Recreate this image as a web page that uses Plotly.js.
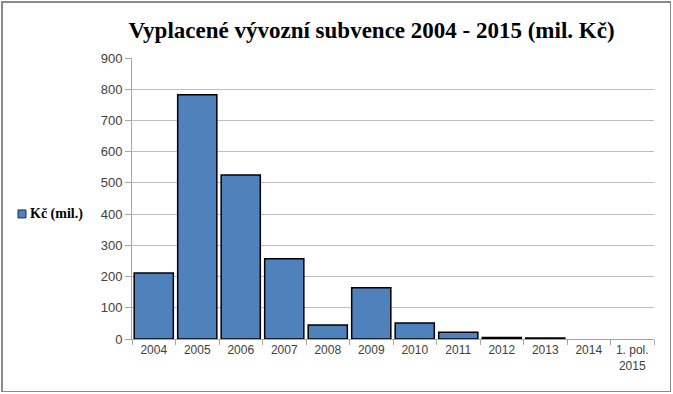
<!DOCTYPE html>
<html>
<head>
<meta charset="utf-8">
<script src="https://cdn.plot.ly/plotly-3.0.1.min.js"></script>
<style>
html,body{margin:0;padding:0;background:#fff;}
#wrap{position:relative;width:673px;height:394px;}
#chart{width:673px;height:394px;}
#frame{position:absolute;left:1px;top:1px;width:667px;height:388px;border:1px solid #8a8a8a;border-left-width:2px;border-top-width:2px;pointer-events:none;}
</style>
</head>
<body>
<div id="wrap"><div id="chart"></div><div id="frame"></div></div>
<script>
const categories = ["2004","2005","2006","2007","2008","2009","2010","2011","2012","2013","2014","1. pol.<br>2015"];
const values = [211, 782, 525, 257, 45, 164, 51, 22, 5, 3, 0, 0];
const seriesName = "Kč (mil.)";
const yTicks = [0,100,200,300,400,500,600,700,800,900];
const barColor = "#4f81bd";

const trace = {
  type: "bar",
  x: categories,
  y: values,
  name: seriesName,
  marker: {color: barColor, line: {color: "#000000", width: values.map(v => v > 0 ? 1.5 : 0)}},
  showlegend: false
};

const plotW = 522, plotH = 281;
const legX = -114 / plotW, legY = 0.445;
const layout = {
  width: 673, height: 394,
  margin: {l: 132, r: 19, t: 58, b: 55},
  paper_bgcolor: "#ffffff", plot_bgcolor: "#ffffff",
  bargap: 0.1,
  title: {
    text: "Vyplacené vývozní subvence 2004 - 2015 (mil. Kč)",
    font: {family: "Liberation Serif, serif", size: 23, color: "#000", weight: "bold"},
    xref: "paper", x: 0.459, xanchor: "center",
    yref: "container", y: 0.925, yanchor: "middle"
  },
  showlegend: false,
  shapes: [{
    type: "rect", xref: "paper", yref: "paper",
    x0: legX, x1: legX + 8/plotW, y0: legY - 4/plotH, y1: legY + 4/plotH,
    fillcolor: barColor, line: {color: "#1f2f4f", width: 1}
  }],
  annotations: [{
    xref: "paper", yref: "paper", x: legX + 10/plotW, y: legY,
    xanchor: "left", yanchor: "middle", showarrow: false,
    text: "<b>" + seriesName + "</b>",
    font: {family: "Liberation Serif, serif", size: 14, color: "#000"}
  }],
  xaxis: {
    type: "category",
    tickfont: {family: "Liberation Sans, Arial, sans-serif", size: 12, color: "#404040"},
    showline: true, linecolor: "#a6a6a6", linewidth: 1,
    ticks: "outside", tickson: "boundaries", ticklen: 5, tickcolor: "#a6a6a6",
    showgrid: false, zeroline: false
  },
  yaxis: {
    range: [0, 900],
    tickvals: yTicks,
    tickfont: {family: "Liberation Sans, Arial, sans-serif", size: 13, color: "#404040"},
    showline: true, linecolor: "#a6a6a6", linewidth: 1,
    ticks: "outside", ticklen: 6, tickcolor: "#a6a6a6",
    showgrid: true, gridcolor: "#bfbfbf", gridwidth: 1,
    zeroline: false
  }
};

Plotly.newPlot("chart", [trace], layout, {displayModeBar: false, staticPlot: true});
</script>
</body>
</html>
